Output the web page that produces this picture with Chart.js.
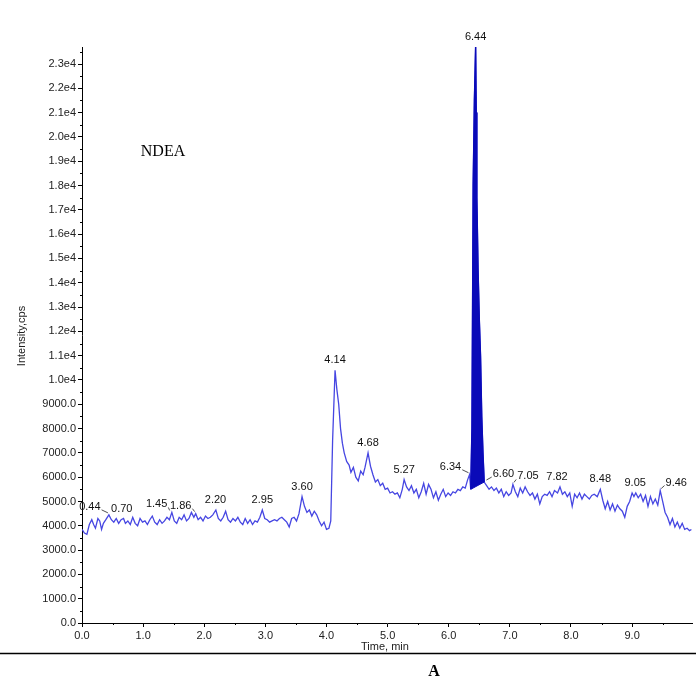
<!DOCTYPE html>
<html><head><meta charset="utf-8">
<script src="https://cdn.jsdelivr.net/npm/chart.js@4.4.1/dist/chart.umd.min.js"></script>
<style>html,body{margin:0;padding:0;background:#fff;}canvas{display:block;}</style>
</head><body>
<canvas id="c" width="696" height="681"></canvas>
<script>
// ---- data ----
const times = [
0.00,0.04,0.08,0.12,0.16,0.19,0.22,0.26,0.29,0.32,0.35,0.39,0.44,0.48,0.52,0.56,0.60,0.64,0.68,0.71,
0.75,0.79,0.83,0.87,0.91,0.95,0.99,1.03,1.07,1.11,1.15,1.19,1.23,1.27,1.31,1.35,1.39,1.43,1.47,1.51,
1.55,1.59,1.63,1.67,1.71,1.75,1.79,1.83,1.86,1.90,1.94,1.98,2.02,2.06,2.10,2.14,2.19,2.23,2.27,2.31,
2.35,2.39,2.43,2.47,2.51,2.55,2.59,2.63,2.67,2.71,2.75,2.79,2.83,2.87,2.91,2.95,2.99,3.03,3.07,3.11,
3.15,3.19,3.23,3.27,3.31,3.35,3.39,3.43,3.47,3.51,3.55,3.60,3.64,3.68,3.72,3.76,3.80,3.84,3.88,3.92,
3.96,4.00,4.04,4.07,4.10,4.14,4.17,4.20,4.23,4.26,4.29,4.33,4.37,4.40,4.44,4.48,4.52,4.56,4.60,4.63,
4.68,4.72,4.76,4.80,4.84,4.88,4.92,4.96,5.00,5.04,5.08,5.12,5.16,5.20,5.24,5.27,5.31,5.35,5.39,5.43,
5.47,5.51,5.55,5.59,5.63,5.67,5.71,5.75,5.79,5.83,5.87,5.91,5.95,5.99,6.03,6.07,6.11,6.15,6.19,6.23,
6.27,6.31,6.34,6.36,6.38,6.39,6.40,6.42,6.44,6.45,6.46,6.48,6.50,6.52,6.54,6.56,6.58,6.62,6.66,6.70,
6.74,6.78,6.82,6.86,6.90,6.94,6.98,7.02,7.05,7.09,7.13,7.17,7.21,7.25,7.29,7.33,7.37,7.41,7.45,7.49,
7.53,7.57,7.61,7.65,7.69,7.73,7.78,7.82,7.86,7.90,7.94,7.98,8.02,8.06,8.10,8.14,8.18,8.22,8.26,8.30,
8.34,8.38,8.43,8.48,8.52,8.56,8.60,8.64,8.68,8.72,8.76,8.80,8.84,8.88,8.92,8.96,9.00,9.03,9.06,9.10,
9.14,9.18,9.22,9.26,9.30,9.34,9.38,9.42,9.46,9.50,9.54,9.58,9.62,9.66,9.70,9.74,9.78,9.82,9.86,9.90,
9.94,9.97];
const intensities = [
3850,3700,3650,4050,4250,4050,3900,4300,4200,3850,4100,4250,4450,4250,4150,4300,4100,4250,4300,4100,
4200,4050,4350,4100,4000,4300,4150,4200,4050,4250,4400,4150,4050,4250,4100,4200,4350,4250,4550,4200,
4100,4350,4250,4450,4200,4300,4550,4350,4500,4250,4350,4200,4400,4300,4350,4450,4650,4300,4200,4350,
4600,4250,4150,4300,4200,4350,4150,4050,4300,4100,4250,4050,4200,4150,4350,4650,4300,4250,4150,4200,
4250,4200,4300,4350,4250,4150,3950,4300,4350,4200,4500,5200,4800,4550,4650,4400,4600,4450,4200,4000,
4150,3850,3900,4200,7500,10400,9600,9000,8000,7400,7000,6650,6500,6200,6400,6000,5850,6250,6100,6400,
7000,6450,6100,5800,5900,5650,5750,5500,5550,5350,5400,5300,5350,5150,5500,5900,5600,5450,5650,5350,
5500,5150,5400,5750,5300,5700,5500,5150,5400,5050,5300,5500,5200,5350,5250,5400,5350,5500,5450,5600,
5550,5900,6100,5500,8000,13000,18000,21500,23700,21000,17500,14500,12500,11000,8500,7000,5800,5650,5500,5600,
5450,5550,5350,5500,5200,5400,5250,5350,5700,5400,5200,5550,5350,5600,5400,5250,5350,5100,5300,4900,
5200,5300,5250,5400,5200,5450,5350,5600,5300,5400,5200,5350,4800,5300,5150,5350,5100,5300,5200,5100,
5250,5300,5200,5500,5050,4700,5000,4650,4900,4600,4850,4700,4600,4350,4800,5000,5350,5200,5350,5150,
5300,5000,5250,4800,5200,4900,5100,4850,5450,5000,4550,4350,4050,4300,3950,4150,3900,4100,3850,3900,
3800,3850];
// integrated peak (6.44) window and its baseline
const peakStart = 6.36, peakEnd = 6.58;
const peakBaseValues = [5500, 5800];
// retention-time annotations
const peakLabels = ['0.44','0.70','1.45','1.86','2.20','2.95','3.60','4.14','4.68','5.27','6.34','6.44','6.60','7.05','7.82','8.48','9.05','9.46'];
// axis ranges / ticks
const xMin = 0, xMax = 9.98;
const yMin = 0, yMax = 23700;
const xTickValues = [0,1,2,3,4,5,6,7,8,9];
const xMinorTicks = [0.5,1.5,2.5,3.5,4.5,5.5,6.5,7.5,8.5,9.5];
const yTickValues = [0,1000,2000,3000,4000,5000,6000,7000,8000,9000,10000,11000,12000,13000,14000,15000,16000,17000,18000,19000,20000,21000,22000,23000];
const yMinorTicks = yTickValues.map(v=>v+500);

// label horizontal offsets (px) relative to peak, and whether a leader line is drawn
const labelStyle = {
 '0.44':[-19,true],'0.70':[-3,false],'1.45':[-14,true],'1.86':[-15,true],'2.20':[-1,false],
 '6.34':[-19,true],'6.60':[18,true],'7.05':[15,true],'7.82':[-3,false],'9.46':[16,true]
};

const trace = times.map((t,i)=>({x:t,y:intensities[i]}));
const peakFill = trace.filter(p=>p.x>=peakStart-1e-9 && p.x<=peakEnd+1e-9);
const peakBase = [{x:peakStart,y:peakBaseValues[0]},{x:peakEnd,y:peakBaseValues[1]}];

const FONT = '"Liberation Sans", Arial, sans-serif';

const overlay = {
  id:'overlay',
  afterDraw(chart){
    const ctx = chart.ctx, xs = chart.scales.x, ys = chart.scales.y, a = chart.chartArea;
    ctx.save();
    // minor ticks
    ctx.strokeStyle = '#000'; ctx.lineWidth = 1;
    ctx.beginPath();
    yMinorTicks.forEach(v=>{
      if (v >= yMax) return;
      const y = Math.round(ys.getPixelForValue(v)) + 0.5;
      ctx.moveTo(a.left-2, y); ctx.lineTo(a.left, y);
    });
    xMinorTicks.forEach(v=>{
      const x = Math.round(xs.getPixelForValue(v)) + 0.5;
      ctx.moveTo(x, a.bottom); ctx.lineTo(x, a.bottom+2);
    });
    ctx.stroke();

    // peak labels
    ctx.font = '11px ' + FONT;
    ctx.fillStyle = '#111';
    ctx.textAlign = 'center'; ctx.textBaseline = 'middle';
    peakLabels.forEach(lbl=>{
      const t = parseFloat(lbl);
      let best = -Infinity;
      trace.forEach(p=>{ if (Math.abs(p.x - t) <= 0.03 && p.y > best) best = p.y; });
      const px = xs.getPixelForValue(t), py = ys.getPixelForValue(best);
      const st = labelStyle[lbl] || [0,false];
      const lx = px + st[0];
      const ly = py - (st[1] ? 8 : 10);
      ctx.fillText(lbl, lx, ly);
      if (st[1]){
        const w = ctx.measureText(lbl).width;
        const sgn = st[0] < 0 ? 1 : -1;
        ctx.beginPath();
        ctx.strokeStyle = '#222'; ctx.lineWidth = 0.8;
        ctx.moveTo(lx + sgn*(w/2+1), ly+3);
        ctx.lineTo(px - sgn*1, py-2);
        ctx.stroke();
      }
    });

    // axis titles and captions
    ctx.fillStyle = '#222';
    ctx.font = '11px ' + FONT;
    ctx.save();
    ctx.translate(22, 336); ctx.rotate(-Math.PI/2);
    ctx.fillText('Intensity,cps', 0, 0);
    ctx.restore();
    ctx.fillText('Time, min', 385, 647);

    ctx.strokeStyle = '#000'; ctx.lineWidth = 1.5;
    ctx.beginPath(); ctx.moveTo(0, 653.5); ctx.lineTo(696, 653.5); ctx.stroke();

    ctx.fillStyle = '#000';
    ctx.font = '16px "Liberation Serif", "Times New Roman", serif';
    ctx.fillText('NDEA', 163, 152);
    ctx.font = 'bold 16px "Liberation Serif", "Times New Roman", serif';
    ctx.fillText('A', 434, 672);
    ctx.restore();
  }
};

new Chart(document.getElementById('c'), {
  type:'line',
  data:{ datasets:[
    {data:trace, order:2, borderColor:'#4646e2', borderWidth:1.3, pointRadius:0, fill:false, tension:0},
    {data:peakFill, order:0, borderColor:'#0a0ab8', borderWidth:1.4, pointRadius:0, backgroundColor:'#0a0ab8', fill:'+1', tension:0},
    {data:peakBase, order:1, borderColor:'#0a0ab8', borderWidth:1, pointRadius:0, fill:false, tension:0}
  ]},
  options:{
    responsive:false, animation:false, devicePixelRatio:1,
    layout:{padding:{top:47,right:4,left:0,bottom:0}},
    plugins:{legend:{display:false}, tooltip:{enabled:false}},
    scales:{
      x:{type:'linear', min:xMin, max:xMax,
         afterFit(s){ s.height = 58; },
         afterBuildTicks(s){ s.ticks = xTickValues.map(v=>({value:v})); },
         grid:{display:true, drawOnChartArea:false, drawTicks:true, tickLength:4, color:'#000'},
         border:{display:true, color:'#000', width:1},
         ticks:{autoSkip:false, maxRotation:0, padding:2,
                color:'#222', font:{family:FONT, size:11},
                callback:v=>Number(v).toFixed(1)}},
      y:{type:'linear', min:yMin, max:yMax,
         afterFit(s){ s.width = 82; },
         afterBuildTicks(s){ s.ticks = yTickValues.map(v=>({value:v})); },
         grid:{display:true, drawOnChartArea:false, drawTicks:true, tickLength:4, color:'#000'},
         border:{display:true, color:'#000', width:1},
         ticks:{autoSkip:false, padding:2,
                color:'#222', font:{family:FONT, size:11},
                callback:v=> v >= 10000 ? (v/10000).toFixed(1)+'e4' : Number(v).toFixed(1)}}
    }
  },
  plugins:[overlay]
});
</script>
</body></html>
